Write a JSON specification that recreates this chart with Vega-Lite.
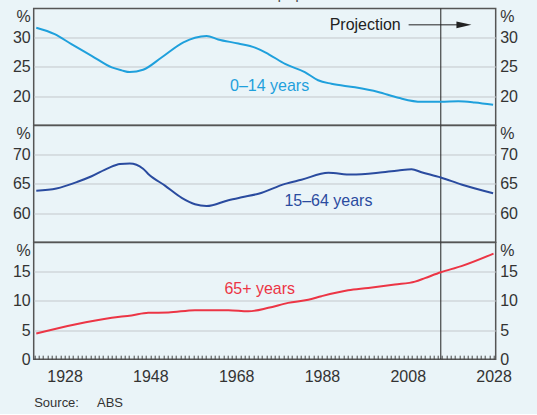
{
  "$schema": "https://vega.github.io/schema/vega-lite/v6.json",
  "background": "#eaf4f8",
  "padding": {"left": 10.7, "top": -14.5, "right": 21, "bottom": 3},
  "title": {"text": "Share of total population", "orient": "top", "anchor": "middle", "frame": "group", "fontSize": 16, "fontWeight": "normal", "color": "#555555", "baseline": "alphabetic", "offset": -7.5},
  "datasets": {
    "kids": [
      {"year": 1921.4, "value": 31.7}, {"year": 1925.7, "value": 30.6}, {"year": 1929.6, "value": 28.9},
      {"year": 1934.3, "value": 26.9}, {"year": 1939.0, "value": 24.9}, {"year": 1941.3, "value": 24.4},
      {"year": 1943.2, "value": 24.1}, {"year": 1946.3, "value": 24.5}, {"year": 1950.6, "value": 26.6},
      {"year": 1955.7, "value": 29.2}, {"year": 1958.4, "value": 30.0}, {"year": 1961.1, "value": 30.3},
      {"year": 1963.8, "value": 29.7}, {"year": 1968.5, "value": 29.0}, {"year": 1972.4, "value": 28.3},
      {"year": 1975.5, "value": 27.2}, {"year": 1979.4, "value": 25.5}, {"year": 1984.0, "value": 24.1},
      {"year": 1987.1, "value": 22.7}, {"year": 1990.2, "value": 22.1}, {"year": 1995.7, "value": 21.5},
      {"year": 2001.1, "value": 20.7}, {"year": 2005.8, "value": 19.7}, {"year": 2011.2, "value": 19.0},
      {"year": 2015.7, "value": 19.0}, {"year": 2019.8, "value": 19.1}, {"year": 2023.6, "value": 18.9},
      {"year": 2027.9, "value": 18.5}
    ],
    "working": [
      {"year": 1921.4, "value": 63.8}, {"year": 1926.1, "value": 64.2}, {"year": 1931.2, "value": 65.4},
      {"year": 1934.3, "value": 66.3}, {"year": 1938.2, "value": 67.7}, {"year": 1940.9, "value": 68.4},
      {"year": 1943.2, "value": 68.5}, {"year": 1946.3, "value": 67.6}, {"year": 1947.5, "value": 66.7},
      {"year": 1951.4, "value": 64.7}, {"year": 1955.3, "value": 62.6}, {"year": 1958.4, "value": 61.5},
      {"year": 1961.1, "value": 61.2}, {"year": 1966.2, "value": 62.2}, {"year": 1969.3, "value": 62.7},
      {"year": 1973.2, "value": 63.3}, {"year": 1979.4, "value": 65.0}, {"year": 1983.2, "value": 65.7},
      {"year": 1989.5, "value": 66.9}, {"year": 1994.9, "value": 66.6}, {"year": 2001.1, "value": 66.9},
      {"year": 2005.8, "value": 67.3}, {"year": 2008.9, "value": 67.5}, {"year": 2011.2, "value": 67.0},
      {"year": 2015.7, "value": 66.1}, {"year": 2020.5, "value": 64.9}, {"year": 2027.9, "value": 63.4}
    ],
    "old": [
      {"year": 1921.4, "value": 4.4}, {"year": 1930.4, "value": 5.95}, {"year": 1939.0, "value": 7.1},
      {"year": 1943.6, "value": 7.5}, {"year": 1947.5, "value": 7.95}, {"year": 1952.2, "value": 8.0},
      {"year": 1958.4, "value": 8.4}, {"year": 1966.2, "value": 8.4}, {"year": 1970.8, "value": 8.2},
      {"year": 1975.5, "value": 8.8}, {"year": 1980.1, "value": 9.65}, {"year": 1984.8, "value": 10.2},
      {"year": 1987.9, "value": 10.8}, {"year": 1994.1, "value": 11.8}, {"year": 1998.8, "value": 12.2},
      {"year": 2005.0, "value": 12.8}, {"year": 2009.7, "value": 13.3}, {"year": 2012.0, "value": 13.9},
      {"year": 2015.7, "value": 14.9}, {"year": 2020.5, "value": 15.95}, {"year": 2028.0, "value": 18.1}
    ],
    "labels": [
      {"panel": "kids", "year": 1975.8, "value": 21.8, "text": "0–14 years"},
      {"panel": "working", "year": 1989.5, "value": 62.0, "text": "15–64 years"},
      {"panel": "old", "year": 1973.5, "value": 12.0, "text": "65+ years"}
    ],
    "note": [{"year": 1989.8, "value": 32.2, "text": "Projection"}],
    "arrow": [{"year": 2008.2, "year2": 2019.6, "value": 32.2}],
    "head": [{"year": 2021.1, "value": 32.2}],
    "proj": [{"year": 2015.7}]
  },
  "vconcat": [
    {
      "width": 462, "height": 116.7,
      "resolve": {"scale": {"y": "independent"}, "axis": {"y": "independent"}},
      "layer": [
        {"data": {"name": "proj"}, "mark": {"type": "rule", "color": "#222222", "strokeWidth": 1},
         "encoding": {"x": {"field": "year", "type": "quantitative", "scale": {"domain": [1920.8, 2028.5], "nice": false, "zero": false}, "axis": null}}},
        {"data": {"name": "kids"}, "mark": {"type": "line", "color": "#1fa0dc", "strokeWidth": 2, "interpolate": "monotone"},
         "encoding": {
           "x": {"field": "year", "type": "quantitative", "axis": null},
           "y": {"field": "value", "type": "quantitative", "scale": {"domain": [15, 35], "nice": false, "zero": false},
                 "axis": {"orient": "left", "values": [20, 25, 30, 35], "title": null, "grid": true, "gridColor": "#c4c8cc", "gridOpacity": {"condition": {"test": "datum.value == 35", "value": 0}, "value": 1}, "ticks": false, "domain": false, "labelPadding": 3.5, "labelExpr": "datum.value == 35 ? '%' : datum.label", "labelBaseline": {"condition": {"test": "datum.value == 35", "value": "top"}, "value": "middle"}}}}},
        {"data": {"name": "kids"}, "mark": {"type": "line", "strokeOpacity": 0},
         "encoding": {
           "x": {"field": "year", "type": "quantitative", "axis": null},
           "y": {"field": "value", "type": "quantitative", "scale": {"domain": [15, 35], "nice": false, "zero": false},
                 "axis": {"orient": "right", "values": [20, 25, 30, 35], "title": null, "grid": false, "ticks": false, "domain": false, "labelPadding": 4, "labelExpr": "datum.value == 35 ? '%' : datum.label", "labelBaseline": {"condition": {"test": "datum.value == 35", "value": "top"}, "value": "middle"}}}}},
        {"data": {"name": "labels"}, "transform": [{"filter": "datum.panel == 'kids'"}],
         "mark": {"type": "text", "color": "#1fa0dc", "align": "center", "baseline": "middle"},
         "encoding": {"x": {"field": "year", "type": "quantitative", "axis": null},
           "y": {"field": "value", "type": "quantitative", "scale": {"domain": [15, 35], "nice": false, "zero": false}, "axis": null},
           "text": {"field": "text"}}},
        {"data": {"name": "note"},
         "mark": {"type": "text", "color": "#222222", "align": "left", "baseline": "middle"},
         "encoding": {"x": {"field": "year", "type": "quantitative", "axis": null},
           "y": {"field": "value", "type": "quantitative", "scale": {"domain": [15, 35], "nice": false, "zero": false}, "axis": null},
           "text": {"field": "text"}}},
        {"data": {"name": "arrow"},
         "mark": {"type": "rule", "color": "#222222", "strokeWidth": 1},
         "encoding": {"x": {"field": "year", "type": "quantitative", "axis": null}, "x2": {"field": "year2"},
           "y": {"field": "value", "type": "quantitative", "scale": {"domain": [15, 35], "nice": false, "zero": false}, "axis": null}}},
        {"data": {"name": "head"},
         "mark": {"type": "point", "shape": "M-1,-0.45L1,0L-1,0.45Z", "filled": true, "color": "#222222", "size": 225, "opacity": 1},
         "encoding": {"x": {"field": "year", "type": "quantitative", "axis": null},
           "y": {"field": "value", "type": "quantitative", "scale": {"domain": [15, 35], "nice": false, "zero": false}, "axis": null}}}
      ]
    },
    {
      "width": 462, "height": 116.7,
      "resolve": {"scale": {"y": "independent"}, "axis": {"y": "independent"}},
      "layer": [
        {"data": {"name": "proj"}, "mark": {"type": "rule", "color": "#222222", "strokeWidth": 1},
         "encoding": {"x": {"field": "year", "type": "quantitative", "scale": {"domain": [1920.8, 2028.5], "nice": false, "zero": false}, "axis": null}}},
        {"data": {"name": "working"}, "mark": {"type": "line", "color": "#2a4b9f", "strokeWidth": 2, "interpolate": "monotone"},
         "encoding": {
           "x": {"field": "year", "type": "quantitative", "axis": null},
           "y": {"field": "value", "type": "quantitative", "scale": {"domain": [55, 75], "nice": false, "zero": false},
                 "axis": {"orient": "left", "values": [60, 65, 70, 75], "title": null, "grid": true, "gridColor": "#c4c8cc", "gridOpacity": {"condition": {"test": "datum.value == 75", "value": 0}, "value": 1}, "ticks": false, "domain": false, "labelPadding": 3.5, "labelExpr": "datum.value == 75 ? '%' : datum.label", "labelBaseline": {"condition": {"test": "datum.value == 75", "value": "top"}, "value": "middle"}}}}},
        {"data": {"name": "working"}, "mark": {"type": "line", "strokeOpacity": 0},
         "encoding": {
           "x": {"field": "year", "type": "quantitative", "axis": null},
           "y": {"field": "value", "type": "quantitative", "scale": {"domain": [55, 75], "nice": false, "zero": false},
                 "axis": {"orient": "right", "values": [60, 65, 70, 75], "title": null, "grid": false, "ticks": false, "domain": false, "labelPadding": 4, "labelExpr": "datum.value == 75 ? '%' : datum.label", "labelBaseline": {"condition": {"test": "datum.value == 75", "value": "top"}, "value": "middle"}}}}},
        {"data": {"name": "labels"}, "transform": [{"filter": "datum.panel == 'working'"}],
         "mark": {"type": "text", "color": "#2a4b9f", "align": "center", "baseline": "middle"},
         "encoding": {"x": {"field": "year", "type": "quantitative", "axis": null},
           "y": {"field": "value", "type": "quantitative", "scale": {"domain": [55, 75], "nice": false, "zero": false}, "axis": null},
           "text": {"field": "text"}}}
      ]
    },
    {
      "width": 462, "height": 116.7,
      "resolve": {"scale": {"y": "independent"}, "axis": {"y": "independent"}},
      "layer": [
        {"data": {"name": "proj"}, "mark": {"type": "rule", "color": "#222222", "strokeWidth": 1},
         "encoding": {"x": {"field": "year", "type": "quantitative", "scale": {"domain": [1920.8, 2028.5], "nice": false, "zero": false},
           "axis": {"orient": "bottom", "title": "Source:\u00a0\u00a0\u00a0\u00a0\u00a0ABS", "titleAnchor": "start", "titleAlign": "left", "titleFontSize": 13, "titleFontWeight": "normal", "titleColor": "#333333", "titleFont": "Liberation Sans", "titlePadding": 12, "tickCount": 108, "format": "d", "grid": false, "domain": false, "ticks": true, "tickSize": -4, "tickColor": "#444444", "tickWidth": 1, "labelPadding": 13.2, "labelFlush": false, "labelOverlap": false, "labelExpr": "datum.value % 20 == 8 ? datum.label : ''"}}}},
        {"data": {"name": "old"}, "mark": {"type": "line", "color": "#ec3545", "strokeWidth": 2, "interpolate": "monotone"},
         "encoding": {
           "x": {"field": "year", "type": "quantitative"},
           "y": {"field": "value", "type": "quantitative", "scale": {"domain": [0, 20], "nice": false, "zero": false},
                 "axis": {"orient": "left", "values": [0, 5, 10, 15, 20], "title": null, "grid": true, "gridColor": "#c4c8cc", "gridOpacity": {"condition": {"test": "datum.value == 20 || datum.value == 0", "value": 0}, "value": 1}, "ticks": false, "domain": false, "labelPadding": 3.5, "labelExpr": "datum.value == 20 ? '%' : datum.label", "labelBaseline": {"condition": {"test": "datum.value == 20", "value": "top"}, "value": "middle"}}}}},
        {"data": {"name": "old"}, "mark": {"type": "line", "strokeOpacity": 0},
         "encoding": {
           "x": {"field": "year", "type": "quantitative"},
           "y": {"field": "value", "type": "quantitative", "scale": {"domain": [0, 20], "nice": false, "zero": false},
                 "axis": {"orient": "right", "values": [0, 5, 10, 15, 20], "title": null, "grid": false, "ticks": false, "domain": false, "labelPadding": 4, "labelExpr": "datum.value == 20 ? '%' : datum.label", "labelBaseline": {"condition": {"test": "datum.value == 20", "value": "top"}, "value": "middle"}}}}},
        {"data": {"name": "labels"}, "transform": [{"filter": "datum.panel == 'old'"}],
         "mark": {"type": "text", "color": "#ec3545", "align": "center", "baseline": "middle"},
         "encoding": {"x": {"field": "year", "type": "quantitative"},
           "y": {"field": "value", "type": "quantitative", "scale": {"domain": [0, 20], "nice": false, "zero": false}, "axis": null},
           "text": {"field": "text"}}}
      ]
    }
  ],
  "spacing": 0,
  "bounds": "flush",
  "config": {
    "font": "Liberation Sans",
    "axis": {"labelFont": "Liberation Sans", "labelFontSize": 16, "labelColor": "#333333"},
    "text": {"font": "Liberation Sans", "fontSize": 16},
    "view": {"stroke": "#555555", "strokeWidth": 1.5, "fill": "#eaf4f8"}
  }
}
